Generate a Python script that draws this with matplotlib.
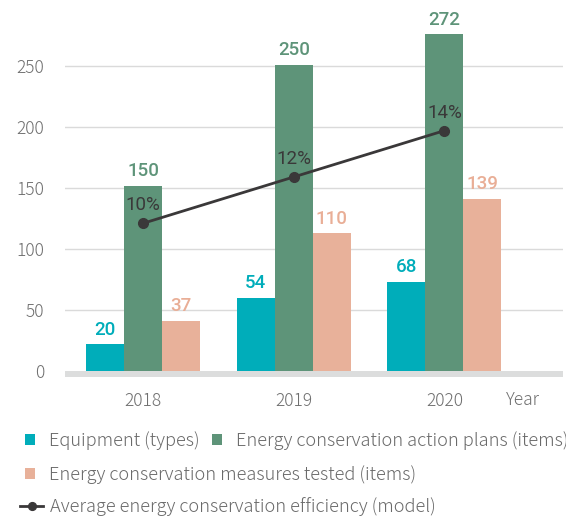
import matplotlib
matplotlib.use("Agg")
import matplotlib.pyplot as plt
import numpy as np
from matplotlib.transforms import blended_transform_factory

# ---- data ----
years = ["2018", "2019", "2020"]
equipment = [22, 60, 73]            # bar heights as drawn
equipment_labels = [20, 54, 68]
plans = [152, 251, 276]
plans_labels = [150, 250, 272]
measures = [41, 113, 141]
measures_labels = [37, 110, 139]
efficiency = [10, 12, 14]          # percent
yticks = [0, 50, 100, 150, 200, 250]

series_names = ["Equipment (types)", "Energy conservation action plans (items)",
                "Energy conservation measures tested (items)",
                "Average energy conservation efficiency (model)"]

c_teal = "#00adba"
c_green = "#5e9479"
c_peach = "#e8b19a"
c_line = "#3a3839"
c_tick = "#6f6f6f"

font_light = "Noto Sans CJK JP"
font_num = "Roboto"

fig = plt.figure(figsize=(5.66, 5.18), dpi=100)
W, H = 566, 518
ax = fig.add_axes([65 / W, (H - 377) / H, (563 - 65) / W, 372 / H])

x = np.arange(len(years))
bw = 0.252
b1 = ax.bar(x - bw, equipment, bw, color=c_teal, zorder=3)
b2 = ax.bar(x, plans, bw, color=c_green, zorder=3)
b3 = ax.bar(x + bw, measures, bw, color=c_peach, zorder=3)

for bars, labs, col in [(b1, equipment_labels, c_teal), (b2, plans_labels, c_green),
                        (b3, measures_labels, "#e9ae96")]:
    for r, lab in zip(bars, labs):
        ax.annotate(str(lab), (r.get_x() + r.get_width() / 2, r.get_height()),
                    xytext=(0, 4), textcoords="offset points", ha="center", va="bottom",
                    color=col, fontsize=13.5, fontweight="medium", family=font_num)

ax.set_xlim(-0.518, 2.787)
ax.set_ylim(-5, 300)
ax.axhspan(-5, 0, color="#dcdddd", zorder=2, lw=0)
for t in yticks[1:]:
    ax.axhline(t, color="#dadada", lw=1, zorder=1)

ax.set_yticks(yticks)
ax.set_xticks(x)
ax.set_xticklabels(years)
ax.tick_params(axis="y", length=0, pad=15, labelsize=12.5, labelcolor=c_tick)
ax.tick_params(axis="x", length=0, pad=11, labelsize=12.5, labelcolor=c_tick)
for lab in ax.get_yticklabels() + ax.get_xticklabels():
    lab.set_family(font_light)
    lab.set_fontweight("light")
for s in ax.spines.values():
    s.set_visible(False)

tr = blended_transform_factory(ax.transData, ax.transAxes)
ax.text(2.52, -23 / 372, "Year", transform=tr, ha="center", va="center",
        fontsize=12.5, color=c_tick, family=font_light, fontweight="light")

# line on twin axis
ax2 = ax.twinx()
ax2.set_ylim((-5 + 69) / 19, (300 + 69) / 19)
ax2.axis("off")
ln, = ax2.plot(x, efficiency, color=c_line, lw=2, marker="o", markersize=7, zorder=5)
for xi, v in zip(x, efficiency):
    ax2.annotate(f"{v}%", (xi, v), xytext=(0, 13), textcoords="offset points",
                 ha="center", va="center", fontsize=13.5, color=c_line, family=font_num)

# legends
prop = {"family": font_light, "weight": "light", "size": 13.1}
common = dict(frameon=False, borderpad=0, borderaxespad=0, labelcolor="#6a6a6a", prop=prop)
lg1 = fig.legend([b1, b2], series_names[:2], loc="center left",
                 bbox_to_anchor=(25 / W, 1 - 441 / H), ncol=2, handlelength=0.55,
                 handleheight=0.55, handletextpad=0.75, columnspacing=0.7, **common)
lg2 = fig.legend([b3], series_names[2:3], loc="center left",
                 bbox_to_anchor=(25 / W, 1 - 475 / H), handlelength=0.55,
                 handleheight=0.55, handletextpad=0.75, **common)
lg3 = fig.legend([ln], series_names[3:], loc="center left",
                 bbox_to_anchor=(20 / W, 1 - 507 / H), handlelength=1.27,
                 handletextpad=0.38, markerscale=0.8, **common)

fig.savefig("out.png", dpi=100)
